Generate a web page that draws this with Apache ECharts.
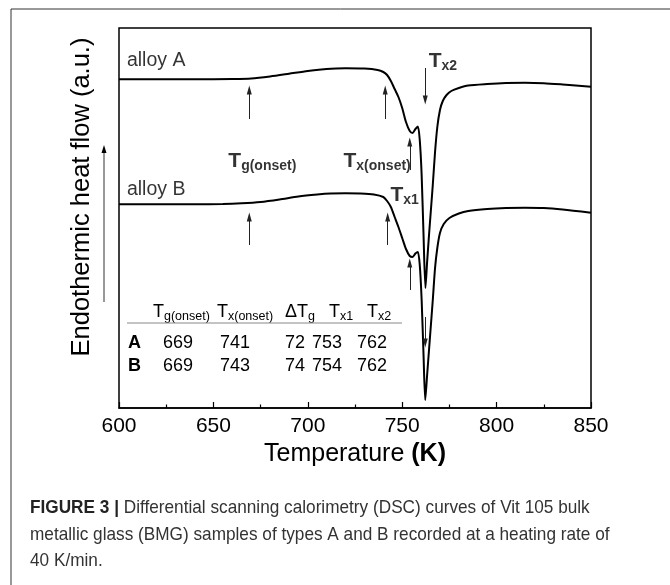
<!DOCTYPE html>
<html><head><meta charset="utf-8">
<script src="https://cdn.jsdelivr.net/npm/echarts@6/dist/echarts.min.js"></script>
<style>html,body{margin:0;padding:0;background:#fff}#c{width:670px;height:585px}</style>
</head><body><div id="c"></div>
<script>
// ---- data ----
const temperatureA = [600,640,660,670,680,690,700,710,715,720,730,737,740,742,744,746,748,750,752,754,755.5,757,758.3,759.3,760.3,761.3,762.3,763.2,764.2,765.2,766.2,767.4,768.6,770,771.5,773.5,776,780,785,795,805,815,825,835,850];
const heatFlowA = [32.87,32.87,32.90,32.95,33.15,33.42,33.70,33.90,33.96,33.98,33.94,33.80,33.60,33.30,32.70,31.90,31.10,30.00,28.60,27.70,27.50,27.90,28.15,26.80,23.30,17.30,12.00,14.60,17.30,19.80,22.30,25.60,28.10,29.80,30.70,31.30,31.70,32.00,32.25,32.40,32.50,32.53,32.48,32.35,32.13];
const temperatureB = [600,640,655,665,675,685,695,705,712,720,728,735,740,742,744,746,748,750,752,754,755.5,757,758.3,759.3,760.3,761.3,762.2,763.2,764.2,765.2,766.2,767.4,768.6,770,772,775,780,785,795,805,815,825,835,850];
const heatFlowB = [20.37,20.38,20.40,20.47,20.60,20.85,21.15,21.35,21.45,21.48,21.45,21.35,21.10,20.70,20.10,19.10,18.10,17.00,15.90,15.20,15.10,15.45,15.60,14.30,10.80,5.30,0.80,3.30,5.80,8.30,10.80,14.00,16.00,17.50,18.40,19.00,19.45,19.70,19.90,20.00,20.03,20.00,19.85,19.53];
const xTickLabels = [600,650,700,750,800,850];
// arrows: temperature, tail value, head value
const arrowT    = [669, 741, 754, 762.2, 669, 742.3, 754, 762.2];
const arrowTail = [28.9, 28.9, 23.8, 34.0, 16.3, 16.3, 11.8, 9.1];
const arrowHead = [31.8, 31.8, 26.6, 30.8, 19.1, 19.1, 14.5, 6.5];
// annotation labels: [T, value, main, subscript]
const annotT     = [604.2, 604.2, 657.9, 718.9, 743.8, 764];
const annotV     = [34.7, 21.8, 24.7, 24.7, 21.3, 34.7];
const annotMain  = ['alloy A', 'alloy B', 'T', 'T', 'T', 'T'];
const annotSub   = ['', '', 'g(onset)', 'x(onset)', 'x1', 'x2'];
// inset table
const tableHeadMain = ['T', 'T', '\u0394T', 'T', 'T'];
const tableHeadSub  = ['g(onset)', 'x(onset)', 'g', 'x1', 'x2'];
const tableRowNames = ['A', 'B'];
const tableRowA = [669, 741, 72, 753, 762];
const tableRowB = [669, 743, 74, 754, 762];
const captionLines = [
  'Differential scanning calorimetry (DSC) curves of Vit 105 bulk',
  'metallic glass (BMG) samples of types A and B recorded at a heating rate of',
  '40 K/min.'
];

// ---- chart ----
const FONT = "'Liberation Sans', Arial, Helvetica, sans-serif";
const chart = echarts.init(document.getElementById('c'), null, {renderer: 'canvas', width: 670, height: 585});

const annotData = annotT.map((t, i) => ({
  value: [t, annotV[i]],
  label: {
    formatter: annotSub[i] ? '{t|' + annotMain[i] + '}{s|' + annotSub[i] + '}' : '{a|' + annotMain[i] + '}'
  }
}));

const arrowData = arrowT.map((t, i) => [
  {coord: [t, arrowTail[i]], symbol: 'none'},
  {coord: [t, arrowHead[i]], symbol: 'triangle', symbolSize: [5, 9]}
]);

const colHeadX = [153, 217, 285, 329, 367];
const colValX  = [163, 220, 285, 312, 357];
const headY = 312, rowY = [343.5, 366.5];
const tableGraphics = [];
tableHeadMain.forEach((m, i) => {
  tableGraphics.push({type: 'text', x: colHeadX[i], y: headY, silent: true,
    style: {text: '{t|' + m + '}{s|' + tableHeadSub[i] + '}', align: 'left', verticalAlign: 'middle',
      rich: {t: {fontSize: 18, fontFamily: FONT, fill: '#000'},
             s: {fontSize: 12.5, fontFamily: FONT, fill: '#000', padding: [10, 0, 0, 0]}}}});
});
tableGraphics.push({type: 'line', silent: true, shape: {x1: 127, y1: 323, x2: 402, y2: 323},
  style: {stroke: '#888', lineWidth: 1}});
[tableRowA, tableRowB].forEach((row, r) => {
  tableGraphics.push({type: 'text', x: 128, y: rowY[r], silent: true,
    style: {text: tableRowNames[r], font: 'bold 18px ' + FONT, fill: '#000', align: 'left', verticalAlign: 'middle'}});
  row.forEach((v, i) => {
    tableGraphics.push({type: 'text', x: colValX[i], y: rowY[r], silent: true,
      style: {text: String(v), font: '18px ' + FONT, fill: '#000', align: 'left', verticalAlign: 'middle'}});
  });
});

const captionY = [508, 535, 561];
const captionGraphics = captionLines.map((line, i) => ({
  type: 'text', x: 30, y: captionY[i], scaleX: 0.93, silent: true,
  style: {text: (i === 0 ? '{b|FIGURE 3 |} ' : '') + line, fontFamily: FONT, fontSize: 18.5, fill: '#333',
    align: 'left', verticalAlign: 'middle',
    rich: {b: {fontFamily: FONT, fontSize: 18.5, fontWeight: 'bold', fill: '#222'}}}
}));

chart.setOption({
  animation: false,
  backgroundColor: '#fff',
  grid: {left: 119, right: 79, top: 28, bottom: 177, show: true, borderColor: '#000', borderWidth: 1.5},
  xAxis: {
    type: 'value', min: 600, max: 850, interval: 50,
    axisLine: {show: true, lineStyle: {color: '#000', width: 1.5}},
    axisTick: {show: true, inside: true, length: 6, lineStyle: {color: '#000', width: 1.2}},
    minorTick: {show: true, splitNumber: 2, length: 3.5, lineStyle: {color: '#000', width: 1.2}},
    splitLine: {show: false},
    axisLabel: {fontSize: 21, color: '#000', fontFamily: FONT, margin: 8,
      showMinLabel: true, showMaxLabel: true,
      formatter: v => xTickLabels.indexOf(v) >= 0 ? String(v) : ''},
    name: '{n|Temperature }{b|(K)}', nameLocation: 'middle', nameGap: 34,
    nameTextStyle: {rich: {n: {fontSize: 25, fontFamily: FONT, color: '#000'},
                           b: {fontSize: 25, fontFamily: FONT, color: '#000', fontWeight: 'bold'}}}
  },
  yAxis: {
    type: 'value', min: 0, max: 38,
    axisLine: {show: false}, axisTick: {show: false}, axisLabel: {show: false}, splitLine: {show: false}
  },
  series: [
    {name: 'alloy A', type: 'line', data: temperatureA.map((t, i) => [t, heatFlowA[i]]),
     showSymbol: false, smooth: 0.25, lineStyle: {color: '#000', width: 2}, silent: true, z: 3},
    {name: 'alloy B', type: 'line', data: temperatureB.map((t, i) => [t, heatFlowB[i]]),
     showSymbol: false, smooth: 0.25, lineStyle: {color: '#000', width: 2}, silent: true, z: 3},
    {name: 'arrows', type: 'line', data: [], silent: true, z: 2,
     markLine: {silent: true, animation: false, symbol: ['none', 'triangle'], label: {show: false},
       lineStyle: {color: '#222', width: 1, type: 'solid'}, emphasis: {disabled: true},
       data: arrowData}},
    {name: 'labels', type: 'scatter', data: annotData, symbolSize: 0, silent: true, z: 4,
     label: {show: true, position: 'right', distance: 0,
       rich: {a: {fontSize: 19.5, fontFamily: FONT, color: '#000'},
              t: {fontSize: 21, fontFamily: FONT, color: '#000', fontWeight: 'bold'},
              s: {fontSize: 14, fontFamily: FONT, color: '#000', fontWeight: 'bold', padding: [11, 0, 0, 0]}}}}
  ],
  graphic: [
    {type: 'line', silent: true, shape: {x1: 11, y1: 9, x2: 670, y2: 9}, style: {stroke: '#333', lineWidth: 1}},
    {type: 'line', silent: true, shape: {x1: 11, y1: 9, x2: 11, y2: 585}, style: {stroke: '#333', lineWidth: 1}},
    {type: 'text', x: 82, y: 197, rotation: Math.PI / 2, silent: true,
     style: {text: 'Endothermic heat flow (a.u.)', font: '25.5px ' + FONT, fill: '#000', align: 'center', verticalAlign: 'middle'}},
    {type: 'line', silent: true, shape: {x1: 104, y1: 302, x2: 104, y2: 152}, style: {stroke: '#333', lineWidth: 1}},
    {type: 'polygon', silent: true, shape: {points: [[104, 145], [101.5, 153], [106.5, 153]]}, style: {fill: '#000'}}
  ].concat(tableGraphics, captionGraphics)
});
</script></body></html>
